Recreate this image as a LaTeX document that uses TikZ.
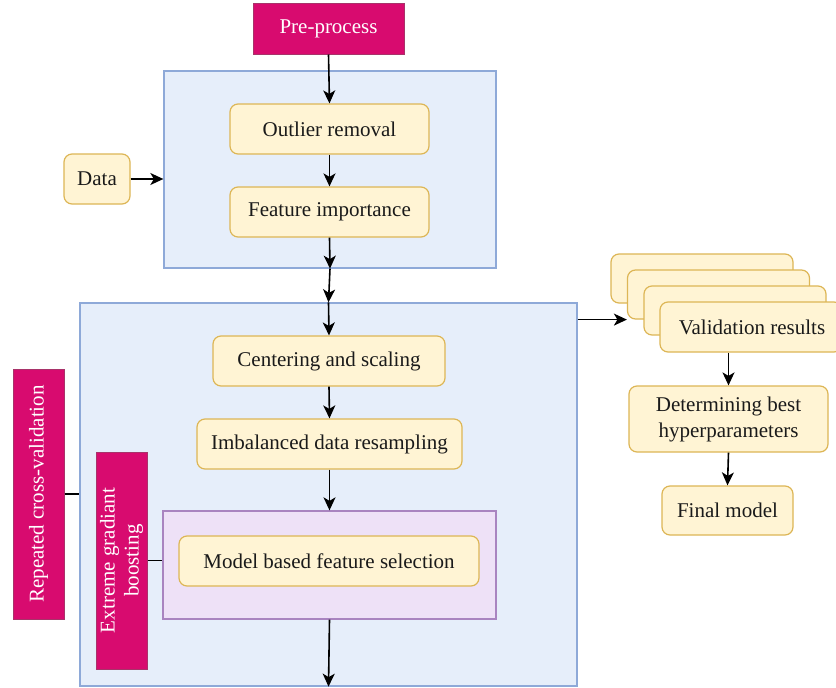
\documentclass[tikz,border=0pt]{standalone}
\usepackage{fontspec}
\setmainfont{Liberation Serif}
\usetikzlibrary{arrows.meta}
\definecolor{mag}{HTML}{D80B6F}
\definecolor{magd}{HTML}{A8336A}
\definecolor{bluef}{HTML}{E6EEFA}
\definecolor{blued}{HTML}{8EA9D8}
\definecolor{yelf}{HTML}{FFF4D4}
\definecolor{yeld}{HTML}{DDB656}
\definecolor{purf}{HTML}{EEE1F7}
\definecolor{purd}{HTML}{A984C0}
\definecolor{txt}{HTML}{1A1A1A}
\begin{document}
\begin{tikzpicture}[x=1pt,y=-1pt,
  font=\fontsize{21}{24}\selectfont,
  every node/.style={inner sep=0pt, align=center, text=txt},
  ybox/.style={draw=yeld, fill=yelf, rounded corners=8pt, line width=1.2pt},
  mbox/.style={draw=magd, fill=mag, line width=1pt, text=white},
  cont/.style={draw=blued, fill=bluef, line width=1.3pt},
  pcont/.style={draw=purd, fill=purf, line width=1.3pt},
  conn/.style={line width=1.6pt, draw=black},
  arr/.style={conn, -{Stealth[length=13pt,width=12pt,inset=3.5pt]}}
]
\useasboundingbox (0,0) rectangle (836,688);
\fill[white] (0,0) rectangle (836,688);

% containers
\node[cont, minimum width=332pt, minimum height=197pt] (top) at (330,169.5) {};
\node[cont, minimum width=497pt, minimum height=383pt] (big) at (328.5,494.5) {};
\node[pcont, minimum width=333pt, minimum height=108pt] (purple) at (329.5,565) {};

% magenta boxes
\node[mbox, minimum width=151pt, minimum height=51pt] (pre) at (328.5,28.5) {Pre-process};
\node[mbox, minimum width=51pt, minimum height=250pt] (rcv) at (38.5,494) {};
\node[text=white, rotate=90] at (rcv.center) {Repeated cross-validation};
\node[mbox, minimum width=51pt, minimum height=217pt] (egb) at (121.5,560.5) {};
\node[text=white, rotate=90, align=center, font=\fontsize{21}{24}\selectfont] at (egb.center) {Extreme gradiant\\boosting};

% yellow boxes
\node[ybox, minimum width=199pt, minimum height=50pt] (outlier) at (329.5,129) {Outlier removal};
\node[ybox, minimum width=199pt, minimum height=50pt] (feat) at (329.5,212) {Feature importance};
\node[ybox, minimum width=66pt, minimum height=50pt] (data) at (97,179) {Data};
\node[ybox, minimum width=232pt, minimum height=50pt] (center) at (329,361) {Centering and scaling};
\node[ybox, minimum width=265pt, minimum height=50pt] (imb) at (329.5,444) {Imbalanced data resampling};
\node[ybox, minimum width=300pt, minimum height=50pt] (model) at (329,561) {Model based feature selection};

\node[ybox, minimum width=182pt, minimum height=49pt] (s1) at (702,278.5) {};
\node[ybox, minimum width=182pt, minimum height=49pt] (s2) at (718.5,294.5) {};
\node[ybox, minimum width=182pt, minimum height=49pt] (s3) at (735,310.5) {};
\node[ybox, minimum width=182pt, minimum height=50pt] (s4) at (751,327) {};
\node at (752,327) {Validation results};
\node[ybox, minimum width=199pt, minimum height=66pt, font=\fontsize{21}{26}\selectfont] (det) at (728.5,419) {Determining best\\hyperparameters};
\node[ybox, minimum width=131pt, minimum height=49pt] (final) at (727.5,510.5) {Final model};

% connectors
\draw[arr] (pre.south) -- (outlier.north);
\draw[arr] (outlier.south) -- (feat.north);
\draw[arr] (feat.south) -- (top.south);
\draw[arr] (top.south) -- (big.north);
\draw[arr] (big.north) -- (center.north);
\draw[arr] (center.south) -- (imb.north);
\draw[arr] (imb.south) -- (purple.north);
\draw[arr] (purple.south) -- (big.south);
\draw[arr] (data.east) -- (data.east -| top.west);
\draw[conn] (egb.east) -- (egb.east -| purple.west);
\draw[conn] (rcv.east) -- (rcv.east -| big.west);
\draw[arr] (s2.south west -| big.east) -- (s2.south west);
\draw[arr] (s4.south -| det.north) -- (det.north);
\draw[arr] (det.south) -- (final.north);
\end{tikzpicture}
\end{document}
